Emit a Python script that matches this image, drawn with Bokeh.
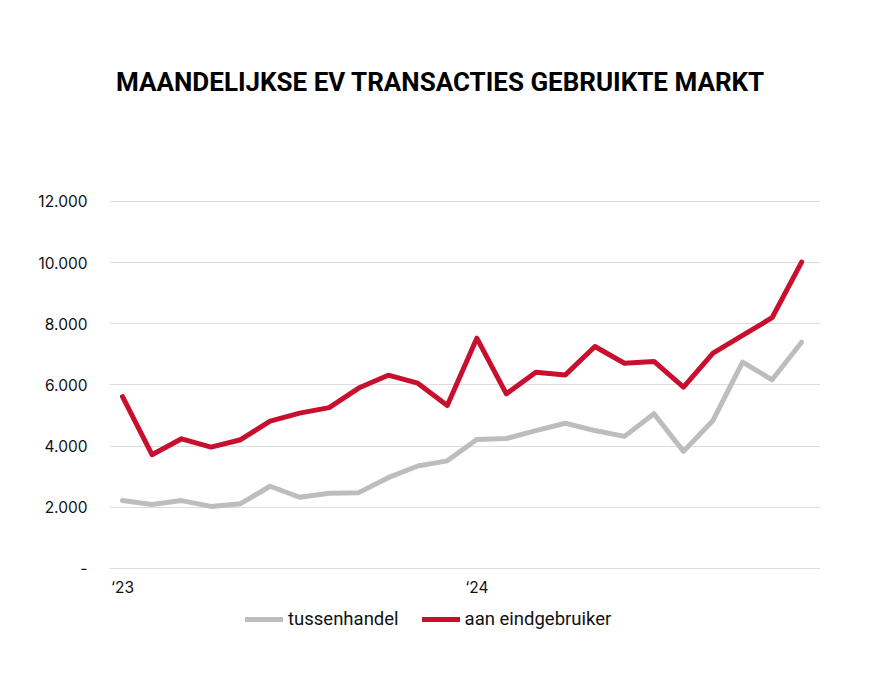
from bokeh.plotting import figure
from bokeh.models import (ColumnDataSource, FixedTicker, Range1d, Legend, LegendItem, Label)
from bokeh.embed import file_html
from bokeh.resources import INLINE

# ---- data ----
months = list(range(24))  # Jan 2023 .. Dec 2024
tussenhandel = [2220, 2090, 2220, 2030, 2120, 2690, 2330, 2460, 2480, 2970, 3350, 3520,
                4220, 4250, 4510, 4750, 4510, 4320, 5060, 3830, 4840, 6750, 6170, 7400]
eindgebruiker = [5620, 3720, 4240, 3970, 4210, 4820, 5080, 5260, 5900, 6320, 6060, 5330,
                 7530, 5710, 6420, 6330, 7260, 6710, 6770, 5930, 7040, 7620, 8200, 10020]
x_ticks = [0, 12]
x_labels = ["\u201823", "\u201824"]
y_ticks = [0, 2000, 4000, 6000, 8000, 10000, 12000]
y_labels = ["-", "2.000", "4.000", "6.000", "8.000", "10.000", "12.000"]
series_names = ["tussenhandel", "aan eindgebruiker"]
title_text = "MAANDELIJKSE EV TRANSACTIES GEBRUIKTE MARKT"

GRAY = "#bdbdbd"
RED = "#c8102e"

src = ColumnDataSource(dict(x=months, a=tussenhandel, b=eindgebruiker))

# frame spans the full height so title and legend can live inside it
p = figure(width=864, height=660, output_backend="svg", toolbar_location=None,
           x_range=Range1d(-0.44, 23.64), y_range=Range1d(-2191, 18572),
           min_border_left=109, min_border_right=44, min_border_top=0,
           min_border_bottom=25, title=None)
p.outline_line_color = None
p.background_fill_color = "white"
p.border_fill_color = "white"

r1 = p.line("x", "a", source=src, line_color=GRAY, line_width=5, line_join="round", line_cap="round")
r2 = p.line("x", "b", source=src, line_color=RED, line_width=5, line_join="round", line_cap="round")

# axes
p.xaxis.ticker = FixedTicker(ticks=x_ticks)
p.xaxis.major_label_overrides = {t: l for t, l in zip(x_ticks, x_labels)}
p.xaxis.fixed_location = 0
p.yaxis.ticker = FixedTicker(ticks=y_ticks)
p.yaxis.major_label_overrides = {t: l for t, l in zip(y_ticks, y_labels)}
for ax in (p.xaxis, p.yaxis):
    ax.axis_line_color = None
    ax.major_tick_line_color = None
    ax.minor_tick_line_color = None
    ax.major_tick_out = 0
    ax.major_tick_in = 0
    ax.minor_tick_out = 0
    ax.minor_tick_in = 0
    ax.major_label_text_font = "Inter"
    ax.major_label_text_font_size = "15.5px"
    ax.major_label_text_color = "#111111"
p.yaxis.major_label_standoff = 22
p.xaxis.major_label_standoff = 10

p.xgrid.grid_line_color = None
p.ygrid.ticker = FixedTicker(ticks=y_ticks)
p.ygrid.grid_line_color = "#dddddd"
p.ygrid.grid_line_width = 1

# title
title = Label(x=10.77, y=15891, text=title_text, text_align="center", text_baseline="middle",
              text_font="Roboto", text_font_style="bold", text_font_size="26px",
              text_color="#000000")
p.add_layout(title)

legend = Legend(items=[LegendItem(label=series_names[0], renderers=[r1]),
                       LegendItem(label=series_names[1], renderers=[r2])],
                orientation="horizontal", location=(136, 5),
                label_text_font="Roboto", label_text_font_size="18.5px",
                label_text_color="#111111", glyph_width=38, glyph_height=16,
                label_standoff=5, spacing=23, border_line_color=None,
                background_fill_alpha=0, padding=0, margin=0)
p.add_layout(legend, "center")

open("out.html", "w").write(file_html(p, INLINE))
